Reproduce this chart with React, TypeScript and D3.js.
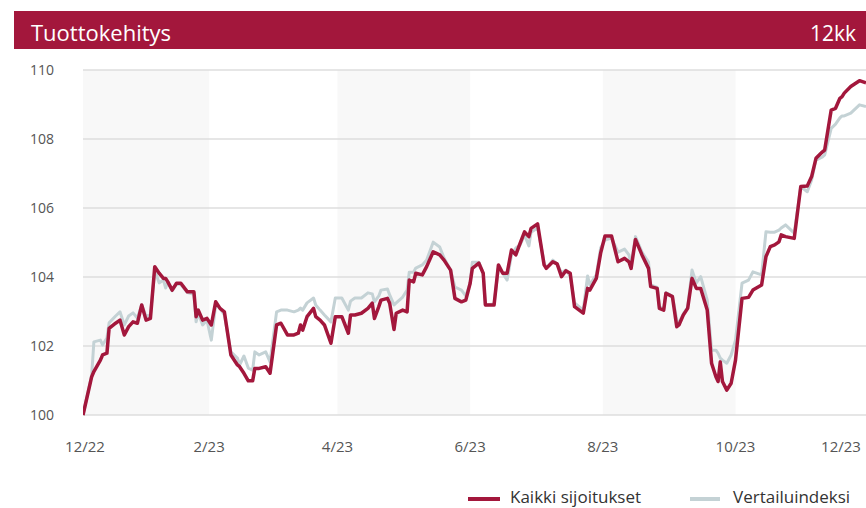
import React from "react";
import * as d3 from "d3";

const dates = [
  "2022-12-05","2022-12-09","2022-12-10","2022-12-13","2022-12-14","2022-12-16","2022-12-17","2022-12-20","2022-12-22","2022-12-24",
  "2022-12-26","2022-12-28","2022-12-30","2023-01-01","2023-01-03","2023-01-05","2023-01-07","2023-01-09","2023-01-11","2023-01-12",
  "2023-01-13","2023-01-15","2023-01-17","2023-01-19","2023-01-22","2023-01-25","2023-01-26","2023-01-27","2023-01-29","2023-01-31",
  "2023-02-02","2023-02-04","2023-02-06","2023-02-08","2023-02-11","2023-02-14","2023-02-15","2023-02-17","2023-02-19","2023-02-21",
  "2023-02-22","2023-02-24","2023-02-27","2023-03-01","2023-03-04","2023-03-06","2023-03-09","2023-03-12","2023-03-14","2023-03-15",
  "2023-03-16","2023-03-18","2023-03-21","2023-03-22","2023-03-24","2023-03-26","2023-03-29","2023-03-31","2023-04-03","2023-04-06",
  "2023-04-07","2023-04-09","2023-04-12","2023-04-15","2023-04-17","2023-04-18","2023-04-20","2023-04-21","2023-04-24","2023-04-25",
  "2023-04-27","2023-04-28","2023-05-01","2023-05-03","2023-05-04","2023-05-06","2023-05-07","2023-05-10","2023-05-12","2023-05-15",
  "2023-05-18","2023-05-20","2023-05-23","2023-05-25","2023-05-28","2023-05-30","2023-06-01","2023-06-02","2023-06-05","2023-06-07",
  "2023-06-08","2023-06-12","2023-06-14","2023-06-16","2023-06-18","2023-06-20","2023-06-22","2023-06-24","2023-06-26","2023-06-28",
  "2023-06-29","2023-07-02","2023-07-05","2023-07-06","2023-07-09","2023-07-11","2023-07-13","2023-07-15","2023-07-17","2023-07-19",
  "2023-07-23","2023-07-25","2023-07-26","2023-07-29","2023-07-31","2023-08-02","2023-08-05","2023-08-08","2023-08-11","2023-08-13",
  "2023-08-14","2023-08-16","2023-08-19","2023-08-22","2023-08-23","2023-08-26","2023-08-27","2023-08-29","2023-08-30","2023-09-02",
  "2023-09-04","2023-09-05","2023-09-07","2023-09-09","2023-09-11","2023-09-13","2023-09-15","2023-09-18","2023-09-20","2023-09-22",
  "2023-09-23","2023-09-24","2023-09-25","2023-09-27","2023-09-29","2023-10-01","2023-10-04","2023-10-07","2023-10-09","2023-10-13",
  "2023-10-15","2023-10-17","2023-10-19","2023-10-21","2023-10-22","2023-10-24","2023-10-28","2023-10-31","2023-11-03","2023-11-05",
  "2023-11-07","2023-11-10","2023-11-11","2023-11-14","2023-11-16","2023-11-18","2023-11-19","2023-11-20","2023-11-23","2023-11-27",
  "2023-11-30",
];

const portfolio = [
  100.00, 101.11, 101.26, 101.59, 101.74, 101.79, 102.51, 102.66, 102.75, 102.32,
  102.56, 102.70, 102.66, 103.19, 102.75, 102.80, 104.30, 104.11, 103.96, 103.96,
  103.86, 103.62, 103.82, 103.82, 103.57, 103.57, 102.85, 103.04, 102.75, 102.80,
  102.61, 103.28, 103.09, 102.99, 101.74, 101.45, 101.40, 101.21, 100.99, 100.99,
  101.35, 101.35, 101.40, 101.21, 102.61, 102.66, 102.32, 102.32, 102.37, 102.61,
  102.46, 102.85, 103.09, 102.85, 102.75, 102.61, 102.08, 102.85, 102.85, 102.37,
  102.90, 102.90, 102.95, 103.09, 103.24, 102.80, 103.14, 103.33, 103.38, 103.24,
  102.48, 102.95, 103.04, 102.99, 103.91, 103.86, 104.11, 104.06, 104.30, 104.73,
  104.64, 104.49, 104.20, 103.38, 103.28, 103.33, 103.82, 104.25, 104.40, 104.11,
  103.19, 103.19, 104.35, 104.11, 104.11, 104.78, 104.64, 104.98, 105.31, 105.17,
  105.41, 105.54, 104.35, 104.25, 104.44, 104.38, 104.01, 104.18, 104.11, 103.14,
  102.95, 103.67, 103.62, 103.96, 104.69, 105.19, 105.19, 104.44, 104.54, 104.44,
  104.25, 105.09, 104.64, 104.25, 103.72, 103.67, 103.09, 103.04, 103.53, 103.43,
  102.56, 102.61, 102.90, 103.09, 103.96, 103.67, 103.67, 103.04, 101.50, 101.11,
  100.97, 101.54, 100.97, 100.72, 100.92, 101.59, 103.38, 103.41, 103.62, 103.77,
  104.59, 104.88, 104.93, 105.02, 105.22, 105.17, 105.12, 106.62, 106.64, 106.91,
  107.44, 107.63, 107.68, 108.84, 108.89, 109.18, 109.23, 109.33, 109.52, 109.69,
  109.63,
];

const benchmark = [
  100.00, 101.16, 102.12, 102.17, 102.03, 102.23, 102.67, 102.87, 102.99, 102.61,
  102.87, 102.96, 102.81, 103.19, 102.87, 102.90, 104.20, 103.83, 103.91, 103.68,
  103.86, 103.60, 103.80, 103.78, 103.55, 103.50, 102.70, 102.95, 102.61, 102.75,
  102.17, 103.19, 103.09, 102.90, 101.83, 101.65, 101.45, 101.71, 101.36, 101.30,
  101.83, 101.74, 101.83, 101.54, 102.99, 103.04, 103.04, 102.99, 103.04, 103.10,
  103.04, 103.25, 103.39, 103.19, 103.04, 102.90, 102.70, 103.39, 103.39, 103.04,
  103.30, 103.39, 103.39, 103.54, 103.51, 103.28, 103.45, 103.62, 103.65, 103.48,
  103.19, 103.25, 103.42, 103.62, 104.14, 104.14, 104.26, 104.35, 104.49, 105.01,
  104.87, 104.55, 104.20, 103.71, 103.62, 103.45, 103.82, 104.43, 104.43, 104.11,
  103.19, 103.22, 104.26, 104.11, 103.91, 104.64, 104.84, 104.93, 105.22, 104.90,
  105.30, 105.42, 104.43, 104.25, 104.49, 104.38, 104.12, 104.20, 104.03, 103.25,
  103.04, 104.03, 103.77, 104.06, 104.84, 105.07, 105.13, 104.72, 104.81, 104.64,
  104.35, 105.17, 104.72, 104.43, 103.77, 103.70, 103.14, 103.07, 103.55, 103.45,
  102.75, 102.66, 102.93, 103.12, 104.20, 103.83, 104.01, 103.33, 101.88, 101.88,
  101.79, 101.65, 101.59, 101.50, 101.74, 102.17, 103.82, 103.91, 104.15, 104.06,
  105.31, 105.30, 105.30, 105.36, 105.42, 105.51, 105.27, 106.62, 106.47, 106.81,
  107.39, 107.48, 107.54, 108.31, 108.43, 108.61, 108.67, 108.67, 108.75, 108.99,
  108.94,
];

const yTicks = [100, 102, 104, 106, 108, 110];
const xTickDates = ["2022-12-01", "2023-02-01", "2023-04-01", "2023-06-01", "2023-08-01", "2023-10-01", "2023-12-01"];
const xTickLabels = ["12/22", "2/23", "4/23", "6/23", "8/23", "10/23", "12/23"];
const bandStarts = ["2022-12-01", "2023-04-01", "2023-08-01"];
const bandEnds = ["2023-02-01", "2023-06-01", "2023-10-01"];
const seriesNames = ["Kaikki sijoitukset", "Vertailuindeksi"];
const title = "Tuottokehitys";
const period = "12kk";

const W = 866;
const H = 508;
const RED = "#a3173c";
const GRAY = "#c4d2d5";
const FONT = "'Open Sans', 'Noto Sans', sans-serif";

const parse = d3.timeParse("%Y-%m-%d");

export default function App() {
  const left = 83;
  const right = 866;
  const top = 70;
  const bottom = 415;
  const domainStart = parse(dates[0])!;
  const domainEnd = parse(dates[dates.length - 1])!;
  const x = d3.scaleTime().domain([domainStart, domainEnd]).range([left, right]);
  const y = d3.scaleLinear().domain([100, 110]).range([bottom, top]);

  const pts = dates.map((d, i) => ({ date: parse(d)!, a: portfolio[i], b: benchmark[i] }));
  const lineA = d3
    .line<any>()
    .x((d) => x(d.date))
    .y((d) => y(d.a));
  const lineB = d3
    .line<any>()
    .x((d) => x(d.date))
    .y((d) => y(d.b));

  const clampX = (v: number) => Math.max(left, Math.min(right, v));

  return (
    <svg
      width={W}
      height={H}
      style={{ position: "absolute", left: 0, top: 0, background: "#fff" }}
      fontFamily={FONT}
    >
      <defs>
        <clipPath id="plotclip">
          <rect x={left} y={0} width={right - left} height={H} />
        </clipPath>
      </defs>
      {/* header */}
      <rect x={14} y={11} width={W - 14} height={38} fill={RED} />
      <text x={31} y={41} fill="#fff" fontSize={22}>
        {title}
      </text>
      <text x={856} y={41} fill="#fff" fontSize={21} textAnchor="end">
        {period}
      </text>

      {/* bands */}
      {bandStarts.map((s, i) => {
        const x0 = clampX(x(parse(s)!));
        const x1 = clampX(x(parse(bandEnds[i])!));
        return <rect key={s} x={x0} y={top} width={x1 - x0} height={bottom - top} fill="#f8f8f8" />;
      })}

      {/* grid */}
      {yTicks.map((t) => (
        <g key={t}>
          <line x1={left} x2={right} y1={y(t)} y2={y(t)} stroke="#dedede" strokeWidth={1.5} />
          <text x={54} y={y(t)} dy="0.35em" textAnchor="end" fill="#555" fontSize={14}>
            {t}
          </text>
        </g>
      ))}

      {/* x labels */}
      {xTickDates.map((d, i) => {
        const px = Math.max(left + 2, Math.min(right - 25, x(parse(d)!)));
        return (
          <text key={d} x={px} y={452} textAnchor="middle" fill="#555" fontSize={15}>
            {xTickLabels[i]}
          </text>
        );
      })}

      {/* lines */}
      <g clipPath="url(#plotclip)">
        <path d={lineB(pts) || ""} fill="none" stroke={GRAY} strokeWidth={3} strokeLinejoin="round" />
        <path d={lineA(pts) || ""} fill="none" stroke={RED} strokeWidth={3.5} strokeLinejoin="round" />
      </g>

      {/* legend */}
      <line x1={468} x2={500} y1={499} y2={499} stroke={RED} strokeWidth={4} />
      <text x={510} y={503} fill="#333" fontSize={17}>
        {seriesNames[0]}
      </text>
      <line x1={690} x2={720} y1={499} y2={499} stroke={GRAY} strokeWidth={4} />
      <text x={733} y={503} fill="#333" fontSize={17}>
        {seriesNames[1]}
      </text>
    </svg>
  );
}
